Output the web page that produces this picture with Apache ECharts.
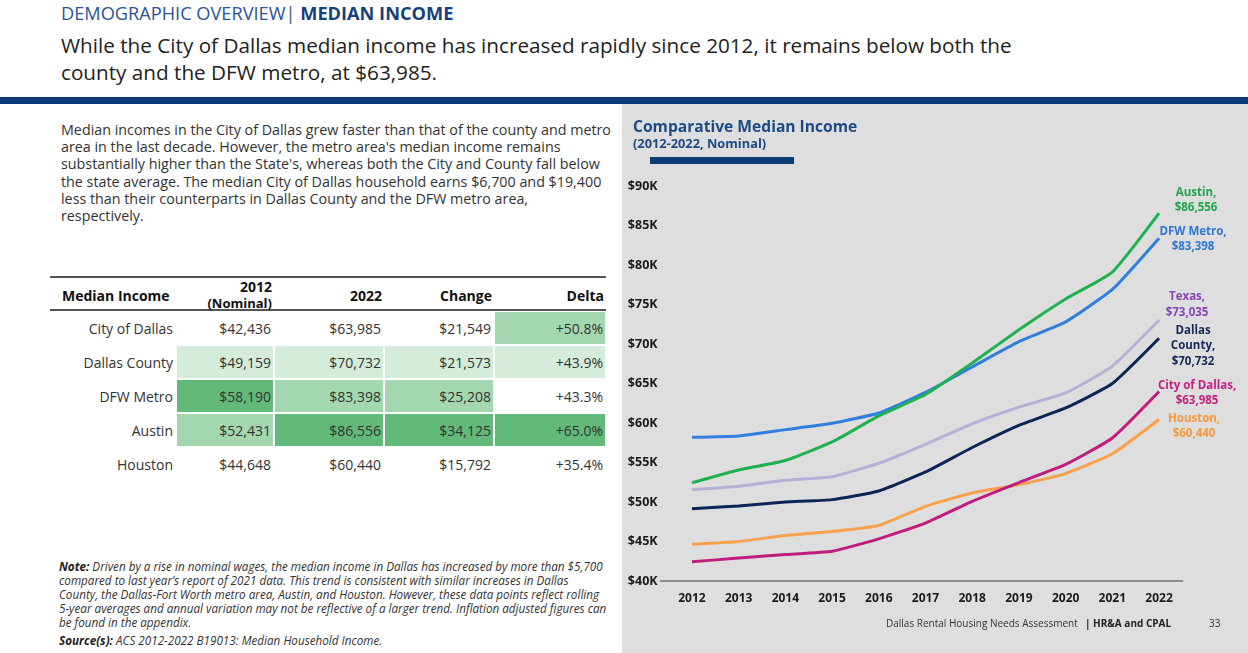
<!DOCTYPE html>
<html>
<head>
<meta charset="utf-8">
<script src="https://cdn.jsdelivr.net/npm/echarts@6/dist/echarts.min.js"></script>
<style>
  html, body { margin:0; padding:0; width:1248px; height:653px; overflow:hidden; background:#ffffff; font-family:"Open Sans", sans-serif; }
  .abs { position:absolute; white-space:nowrap; }
  #hdr { left:61px; top:1px; font-size:18.2px; color:#2a5594; line-height:24px; }
  #hdr b { color:#173f7c; font-weight:700; }
  #sub { left:61px; top:32px; font-size:20.7px; color:#222; line-height:27px; }
  #bar { left:0; top:97px; width:1248px; height:7px; background:#0d3b75; }
  #para { left:61px; top:121px; font-size:14.3px; color:#333; line-height:17.2px; }
  #tbl { position:absolute; left:50px; top:276px; border-collapse:separate; border-spacing:0; font-size:14px; color:#333; }
  #tbl th { font-weight:700; color:#111; height:27px; padding:4px 2px 0 0; text-align:right; border-top:2px solid #555; border-bottom:2px solid #555; vertical-align:middle; line-height:16px; box-sizing:content-box; }
  #tbl th.first { text-align:left; padding-left:12px; }
  #tbl th.two { padding-top:1px; height:30px; vertical-align:top; }
  #tbl th.two div { height:30px; line-height:16px; overflow:visible; }
  #tbl td { height:32px; padding:0 2px 0 0; text-align:right; vertical-align:middle; border:1px solid #fff; }
  #note { left:59px; top:559px; font-size:11.7px; color:#333; line-height:14px; font-style:italic; }
  #note b { font-weight:700; color:#222; }
  #chart { position:absolute; left:622px; top:104px; width:626px; height:549px; }
</style>
</head>
<body>
<div id="hdr" class="abs">DEMOGRAPHIC OVERVIEW| <b>MEDIAN INCOME</b></div>
<div id="sub" class="abs">While the City of Dallas median income has increased rapidly since 2012, it remains below both the<br>county and the DFW metro, at $63,985.</div>
<div id="bar" class="abs"></div>
<div id="para" class="abs">Median incomes in the City of Dallas grew faster than that of the county and metro<br>area in the last decade. However, the metro area's median income remains<br>substantially higher than the State's, whereas both the City and County fall below<br>the state average. The median City of Dallas household earns $6,700 and $19,400<br>less than their counterparts in Dallas County and the DFW metro area,<br>respectively.</div>
<table id="tbl"></table>
<div id="note" class="abs"><b>Note:</b> Driven by a rise in nominal wages, the median income in Dallas has increased by more than $5,700<br>compared to last year’s report of 2021 data. This trend is consistent with similar increases in Dallas<br>County, the Dallas-Fort Worth metro area, Austin, and Houston. However, these data points reflect rolling<br>5-year averages and annual variation may not be reflective of a larger trend. Inflation adjusted figures can<br>be found in the appendix.<br><span style="line-height:22px"><b>Source(s):</b> ACS 2012-2022 B19013: Median Household Income.</span></div>
<div id="chart"></div>
<script>
// ---------- data ----------
var years = ['2012','2013','2014','2015','2016','2017','2018','2019','2020','2021','2022'];
var austin       = [52431, 54050, 55250, 57600, 60900, 63600, 67600, 71800, 75700, 79100, 86556];
var dfwMetro     = [58190, 58360, 59160, 59960, 61260, 63870, 67100, 70300, 72800, 76900, 83398];
var texas        = [51563, 52000, 52750, 53200, 54900, 57300, 59900, 62000, 63800, 67200, 73035];
var dallasCounty = [49159, 49500, 50000, 50300, 51400, 53800, 56900, 59700, 61900, 65000, 70732];
var cityDallas   = [42436, 42900, 43350, 43770, 45340, 47330, 50080, 52460, 54750, 58100, 63985];
var houston      = [44648, 45000, 45760, 46270, 47030, 49450, 51140, 52200, 53600, 56100, 60440];
var yTicks = ['$40K','$45K','$50K','$55K','$60K','$65K','$70K','$75K','$80K','$85K','$90K'];

var tableNames  = ['City of Dallas','Dallas County','DFW Metro','Austin','Houston'];
var table2012   = ['$42,436','$49,159','$58,190','$52,431','$44,648'];
var table2022   = ['$63,985','$70,732','$83,398','$86,556','$60,440'];
var tableChange = ['$21,549','$21,573','$25,208','$34,125','$15,792'];
var tableDelta  = ['+50.8%','+43.9%','+43.3%','+65.0%','+35.4%'];
// heat shade level per cell (0 none .. 3 dark)
var shade = [[0,0,0,2],[1,1,1,1],[3,2,2,0],[2,3,3,3],[0,0,0,0]];
var shadeColors = ['#ffffff','#d5ecda','#a3d7b0','#62b97a'];

// ---------- table ----------
(function(){
  var t = document.getElementById('tbl');
  var widths = [124, 98, 110, 110, 112];
  var h = '<tr><th class="first" style="width:'+(widths[0]-12)+'px">Median Income</th>' +
          '<th class="two" style="width:'+(widths[1]-2)+'px"><div>2012<br><span style="font-size:13px">(Nominal)</span></div></th>' +
          '<th style="width:'+(widths[2]-2)+'px">2022</th>' +
          '<th style="width:'+(widths[3]-2)+'px">Change</th>' +
          '<th style="width:'+(widths[4]-2)+'px">Delta</th></tr>';
  for (var i=0;i<tableNames.length;i++){
    var cols = [table2012[i], table2022[i], tableChange[i], tableDelta[i]];
    h += '<tr><td>'+tableNames[i]+'</td>';
    for (var j=0;j<4;j++){
      h += '<td style="background:'+shadeColors[shade[i][j]]+'">'+cols[j]+'</td>';
    }
    h += '</tr>';
  }
  t.innerHTML = h;
})();

// ---------- chart ----------
var chart = echarts.init(document.getElementById('chart'), null, {renderer:'canvas'});
var FONT = '"Open Sans", sans-serif';

function mkSeries(name, values, lineColor, labelColor, labelText, off){
  var data = values.map(function(v, i){
    if (i === values.length - 1) {
      return { value: v, label: { show: true, position: 'inside', offset: off, formatter: labelText,
        color: labelColor, fontFamily: FONT, fontWeight: 700, fontSize: 11.5, lineHeight: 15.5, align: 'center', verticalAlign: 'middle' } };
    }
    return v;
  });
  return {
    name: name, type: 'line', data: data, smooth: 0.15,
    symbol: 'circle', symbolSize: 0, showSymbol: true,
    lineStyle: { color: lineColor, width: 3 },
    itemStyle: { color: lineColor },
    label: { show: false },
    emphasis: { disabled: true },
    z: 3
  };
}

var option = {
  backgroundColor: '#dedede',
  animation: false,
  grid: { left: 46.6, right: 65.6, top: 82, bottom: 72, containLabel: false },
  xAxis: {
    type: 'category', data: years, boundaryGap: true,
    axisLine: { lineStyle: { color: '#8c8c8c', width: 2 } },
    axisTick: { show: false },
    axisLabel: { color: '#1a1a1a', fontFamily: FONT, fontWeight: 700, fontSize: 12, margin: 12 }
  },
  yAxis: {
    type: 'value', min: 40000, max: 90000, interval: 5000,
    axisLine: { show: false }, axisTick: { show: false }, splitLine: { show: false },
    axisLabel: { color: '#1a1a1a', fontFamily: FONT, fontWeight: 700, fontSize: 12.5, margin: 11,
      formatter: function(v){ return yTicks[Math.round((v - 40000) / 5000)]; } }
  },
  graphic: [
    { type: 'text', x: 11, y: 23.5, style: { text: 'Comparative Median Income', fill: '#1c4a85', font: '700 15.6px ' + FONT, verticalAlign: 'middle' } },
    { type: 'text', x: 11, y: 40, style: { text: '(2012-2022, Nominal)', fill: '#1c4a85', font: '700 12.8px ' + FONT, verticalAlign: 'middle' } },
    { type: 'rect', shape: { x: 28, y: 53, width: 144, height: 7 }, style: { fill: '#0d3b75' } },
    { type: 'line', shape: { x1: 38, y1: 477, x2: 47, y2: 477 }, style: { stroke: '#8c8c8c', lineWidth: 2 } },
    { type: 'text', x: 264, y: 520, style: { text: 'Dallas Rental Housing Needs Assessment ', fill: '#333', font: '10px ' + FONT, verticalAlign: 'middle' } },
    { type: 'text', x: 463, y: 520, style: { text: '| HR&A and CPAL', fill: '#222', font: '700 10px ' + FONT, verticalAlign: 'middle' } },
    { type: 'text', x: 587, y: 520, style: { text: '33', fill: '#333', font: '10px ' + FONT, verticalAlign: 'middle' } }
  ],
  series: [
    mkSeries('Houston', houston, '#f8a14d', '#f59a3f', 'Houston,\n$60,440', [35, 6.5]),
    mkSeries('City of Dallas', cityDallas, '#c01c80', '#c2217f', 'City of Dallas,\n$63,985', [38, 1.5]),
    mkSeries('Dallas County', dallasCounty, '#0b2557', '#14285a', 'Dallas\nCounty,\n$70,732', [34, 8]),
    mkSeries('Texas', texas, '#b8aed6', '#8a45b3', 'Texas,\n$73,035', [28, -15.5]),
    mkSeries('DFW Metro', dfwMetro, '#2f7ee0', '#2e77d6', 'DFW Metro,\n$83,398', [34, 1]),
    mkSeries('Austin', austin, '#1fb14f', '#21a64a', 'Austin,\n$86,556', [37, -13])
  ]
};
chart.setOption(option);
</script>
</body>
</html>
